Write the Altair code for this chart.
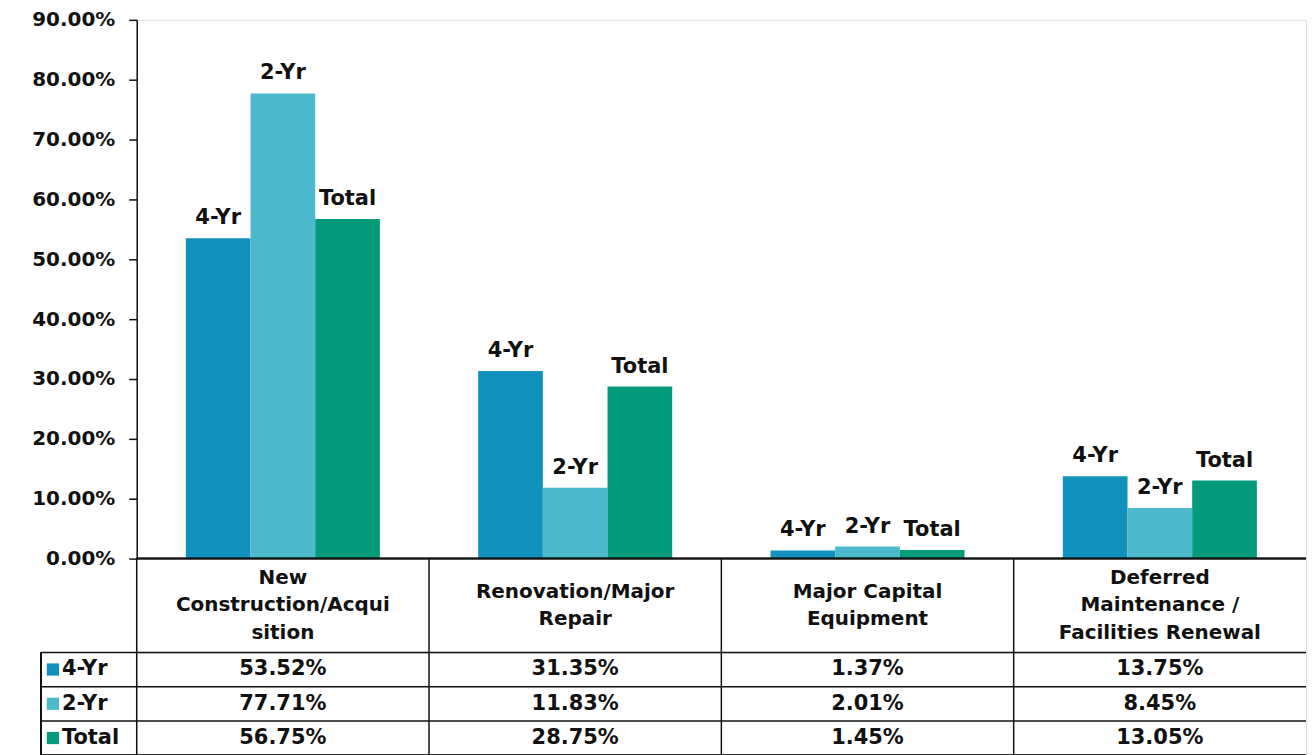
import altair as alt
import pandas as pd

categories = [
    "New Construction/Acquisition",
    "Renovation/Major Repair",
    "Major Capital Equipment",
    "Deferred Maintenance / Facilities Renewal",
]
header_lines = [
    "New\nConstruction/Acqui\nsition",
    "Renovation/Major\nRepair",
    "Major Capital\nEquipment",
    "Deferred\nMaintenance /\nFacilities Renewal",
]
series = ["4-Yr", "2-Yr", "Total"]
four_yr = [53.52, 31.35, 1.37, 13.75]
two_yr = [77.71, 11.83, 2.01, 8.45]
total = [56.75, 28.75, 1.45, 13.05]
colors = ["#1191BD", "#4DB9CC", "#049B7B"]
y_ticks = [0, 10, 20, 30, 40, 50, 60, 70, 80, 90]

rows = []
for s, vals in zip(series, [four_yr, two_yr, total]):
    for c, v in zip(categories, vals):
        rows.append({"category": c, "series": s, "value": v, "label": f"{v:.2f}%"})
long_df = pd.DataFrame(rows)
cat_df = pd.DataFrame({"category": categories, "header": header_lines})
ser_df = pd.DataFrame({"series": series})

FONT = "DejaVu Sans"
W = 1172
H_BAR = 540
H_HEAD = 94
H_ROWS = 103
LH = 28
LINE = "#111111"
TXT = "#111111"

x_scale = alt.Scale(domain=categories, paddingInner=0, paddingOuter=0)
color_enc = alt.Color("series:N", scale=alt.Scale(domain=series, range=colors), legend=None)


def cat_x(**kw):
    return alt.X("category:N", sort=categories, scale=x_scale, axis=None, **kw)


xoff_enc = alt.XOffset("series:N", sort=series,
                       scale=alt.Scale(domain=series, paddingInner=0, paddingOuter=0.76))
y_enc = alt.Y("value:Q",
              scale=alt.Scale(domain=[0, 90], nice=False, zero=True),
              axis=alt.Axis(values=y_ticks, labelExpr="format(datum.value, '.2f') + '%'",
                            grid=False, tickSize=8, tickColor=LINE, tickWidth=1.5,
                            domainColor=LINE, domainWidth=1.5, labelPadding=14,
                            labelFont=FONT, labelFontSize=20, labelFontWeight="bold",
                            labelColor=TXT, title=None, minExtent=128))

bar_base = alt.Chart(long_df)
bars = bar_base.mark_bar().encode(x=cat_x(), xOffset=xoff_enc, y=y_enc, color=color_enc)
bar_labels = bar_base.mark_text(baseline="bottom", dy=-10, font=FONT, fontSize=21,
                                fontWeight="bold", color=TXT).encode(
    x=cat_x(), xOffset=xoff_enc, y=alt.Y("value:Q"), text="series:N")
bar_chart = alt.layer(bars, bar_labels).properties(width=W, height=H_BAR)

# header row of the data table (multi-line text, block centred in the cell)
head_text = alt.Chart(cat_df).transform_calculate(
    nlines="length(split(datum.header, '\\n'))"
).transform_calculate(
    ypos=f"{H_HEAD / 2} - (datum.nlines - 1) * {LH / 2}"
).mark_text(
    lineBreak="\n", lineHeight=LH, font=FONT, fontSize=20, fontWeight="bold",
    color=TXT, baseline="middle", align="center").encode(
    x=cat_x(),
    y=alt.Y("ypos:Q", scale=alt.Scale(domain=[0, H_HEAD], reverse=True, nice=False, zero=False),
            axis=None),
    text="header:N")
head_vrules = alt.Chart(cat_df).mark_rule(color=LINE, strokeWidth=1.5).encode(
    x=cat_x(bandPosition=0))
head_top = alt.Chart(cat_df).mark_rule(color=LINE, strokeWidth=1.5).encode(y=alt.value(0))
head_chart = alt.layer(head_vrules, head_top, head_text).properties(width=W, height=H_HEAD)

# value rows of the data table
row_scale = alt.Scale(domain=series, paddingInner=0, paddingOuter=0)
y_row = alt.Y("series:N", sort=series, scale=row_scale, axis=None)
row_text = alt.Chart(long_df).mark_text(font=FONT, fontSize=21, fontWeight="bold",
                                        color=TXT, baseline="middle").encode(
    x=cat_x(), y=y_row, text="label:N")
row_hrules = alt.Chart(ser_df).mark_rule(color=LINE, strokeWidth=1.5).encode(
    y=alt.Y("series:N", sort=series, scale=row_scale, axis=None, bandPosition=0),
    x=alt.value(-96), x2=alt.value(W))
row_bottom = alt.Chart(ser_df).mark_rule(color=LINE, strokeWidth=1.5).encode(
    y=alt.value(H_ROWS), x=alt.value(-96), x2=alt.value(W))
row_vrules = alt.Chart(cat_df).mark_rule(color=LINE, strokeWidth=1.5).encode(
    x=cat_x(bandPosition=0))
row_left = alt.Chart(cat_df).mark_rule(color=LINE, strokeWidth=1.5).encode(
    x=alt.value(-96), y=alt.value(0), y2=alt.value(H_ROWS))
row_keys = alt.Chart(ser_df).mark_square(size=150, opacity=1).encode(
    x=alt.value(-84), y=y_row, color=color_enc)
row_names = alt.Chart(ser_df).mark_text(align="left", baseline="middle", font=FONT, fontSize=21,
                                        fontWeight="bold", color=TXT).encode(
    x=alt.value(-75), y=y_row, text="series:N")
rows_chart = alt.layer(row_hrules, row_bottom, row_vrules, row_left,
                       row_keys, row_names, row_text).properties(width=W, height=H_ROWS)

chart = alt.vconcat(bar_chart, head_chart, rows_chart, spacing=0).properties(
    bounds="flush", padding=0
).configure_view(strokeWidth=0).configure(background="white")

chart.save("out.html", embed_options={"renderer": "svg", "actions": False})
